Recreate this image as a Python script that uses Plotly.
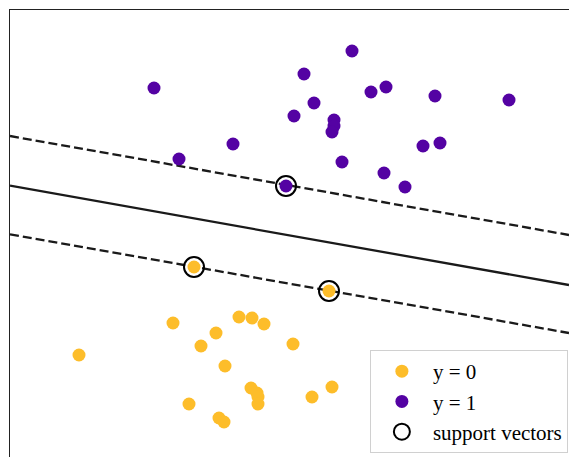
import plotly.graph_objects as go

# data coordinates (arbitrary units)
purple_x = [154, 352, 304, 371, 386, 435, 509, 314, 294, 334, 334, 332, 233, 179, 423, 440, 342, 384, 405, 286]
purple_y = [369, 406, 383, 365, 370, 361, 357, 354, 341, 337, 331, 325, 313, 298, 311, 314, 295, 284, 270, 271]

yellow_x = [79, 173, 216, 201, 239, 252, 264, 293, 225, 251, 257, 258, 258, 312, 332, 189, 219, 224, 194, 329]
yellow_y = [102, 134, 124, 111, 140, 139, 133, 113, 91, 69, 64, 60, 53, 60, 70, 53, 39, 35, 190, 166]

sv_x = [286, 194, 329]
sv_y = [271, 190, 166]

# decision boundary and margins: x endpoints and y values
line_x = [10, 569]
boundary_y = [271.3, 172.0]
upper_margin_y = [321.0, 222.0]
lower_margin_y = [222.7, 124.0]

PURPLE = "#5402a3"
YELLOW = "#fdbd2a"
LINE = "#1a1a1a"

fig = go.Figure()
fig.add_trace(go.Scatter(x=line_x, y=upper_margin_y, mode="lines",
                         line=dict(color=LINE, width=2.3, dash="9px,4px"),
                         showlegend=False, hoverinfo="skip"))
fig.add_trace(go.Scatter(x=line_x, y=boundary_y, mode="lines",
                         line=dict(color=LINE, width=2.3),
                         showlegend=False, hoverinfo="skip"))
fig.add_trace(go.Scatter(x=line_x, y=lower_margin_y, mode="lines",
                         line=dict(color=LINE, width=2.3, dash="9px,4px"),
                         showlegend=False, hoverinfo="skip"))
fig.add_trace(go.Scatter(x=yellow_x, y=yellow_y, mode="markers", name="y = 0",
                         marker=dict(color=YELLOW, size=13, line=dict(width=0))))
fig.add_trace(go.Scatter(x=purple_x, y=purple_y, mode="markers", name="y = 1",
                         marker=dict(color=PURPLE, size=13, line=dict(width=0))))
fig.add_trace(go.Scatter(x=sv_x, y=sv_y, mode="markers", name="support vectors",
                         marker=dict(symbol="circle-open", color="black", size=20,
                                     line=dict(width=2, color="black"))))

fig.update_layout(
    width=569, height=457,
    margin=dict(l=10, r=0, t=10, b=0),
    plot_bgcolor="white", paper_bgcolor="white",
    font=dict(family="Liberation Serif", size=21, color="black"),
    legend=dict(x=0.998, y=0.009, xanchor="right", yanchor="bottom",
                bordercolor="#d0d0d0", borderwidth=1, bgcolor="rgba(255,255,255,0.8)",
                itemwidth=52,
                font=dict(family="Liberation Serif", size=21)),
    xaxis=dict(range=[10, 569], side="top", showline=True, linecolor="#222", linewidth=1,
               showgrid=False, zeroline=False, showticklabels=False, ticks=""),
    yaxis=dict(range=[0, 447], showline=True, linecolor="#222", linewidth=1,
               showgrid=False, zeroline=False, showticklabels=False, ticks=""),
)
fig.write_html("out.html", config={"displayModeBar": False},
               post_script="document.body.style.margin='0';document.body.style.padding='0';")
